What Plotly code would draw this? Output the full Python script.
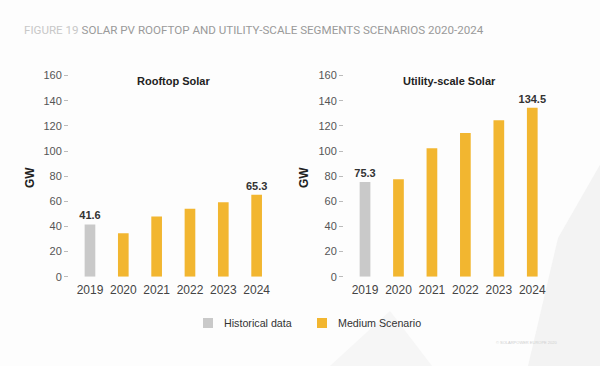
import plotly.graph_objects as go

years = ["2019", "2020", "2021", "2022", "2023", "2024"]
rooftop = [41.6, 34.5, 47.8, 54.1, 59.2, 65.3]
utility = [75.3, 77.5, 102.2, 114.4, 124.5, 134.5]
kind = ["Historical data", "Medium Scenario", "Medium Scenario", "Medium Scenario",
        "Medium Scenario", "Medium Scenario"]
legend_labels = ["Historical data", "Medium Scenario"]
y_ticks = [0, 20, 40, 60, 80, 100, 120, 140, 160]

GREY = "#c9c9c9"
GOLD = "#f2b630"
COLORS = {"Historical data": GREY, "Medium Scenario": GOLD}
FONT = "Liberation Sans, Arial, sans-serif"

fig = go.Figure()

def add_panel(values, xa, ya):
    labels = [("<b>%.1f</b>" % v) if i in (0, len(values) - 1) else "" for i, v in enumerate(values)]
    fig.add_trace(go.Bar(x=years, y=values, marker_color=[COLORS[k] for k in kind],
                         marker_line_width=0, text=labels, textposition="outside",
                         constraintext="none",
                         textfont=dict(family=FONT, size=11, color="#333333"),
                         cliponaxis=False, xaxis=xa, yaxis=ya, showlegend=False,
                         hoverinfo="skip"))

add_panel(rooftop, "x", "y")
add_panel(utility, "x2", "y2")

ydom = [(366 - 276.7) / 366, (366 - 75.6) / 366]
common_x = dict(type="category", showgrid=False, showline=False, zeroline=False, ticks="",
                automargin=False, ticklabelstandoff=4,
                tickfont=dict(family=FONT, size=12, color="#444444"))
common_y = dict(range=[0, 160], tickvals=y_ticks, showgrid=False, showline=False,
                zeroline=False, ticks="outside", ticklen=4, tickcolor="#bbbbbb",
                automargin=False, anchor="free",
                tickfont=dict(family=FONT, size=11, color="#555555"), domain=ydom)

fig.update_layout(
    width=600, height=366,
    margin=dict(l=0, r=0, t=0, b=0, autoexpand=False),
    paper_bgcolor="#fdfdfd", plot_bgcolor="rgba(0,0,0,0)",
    bargap=0.68, showlegend=False, hovermode=False,
    xaxis=dict(domain=[73.3 / 600, 273.3 / 600], anchor="y", **common_x),
    xaxis2=dict(domain=[348.3 / 600, 549 / 600], anchor="y2", **common_x),
    yaxis=dict(position=68 / 600, **common_y),
    yaxis2=dict(position=343 / 600, **common_y),
)

# faint background polygons
fig.add_shape(type="path", xref="paper", yref="paper", layer="below",
              path="M 0.88 0 L 1 0 L 1 0.55 L 0.93 0.35 Z",
              fillcolor="#f3f3f3", line=dict(width=0))
fig.add_shape(type="path", xref="paper", yref="paper", layer="below",
              path="M 0.55 0 L 0.72 0 L 0.65 0.15 Z",
              fillcolor="#f6f6f6", line=dict(width=0))

# legend (manual)
leg_x = [203, 317]
for lab, lx in zip(legend_labels, leg_x):
    fig.add_shape(type="rect", xref="paper", yref="paper",
                  x0=lx / 600, x1=(lx + 10) / 600, y0=1 - 328 / 366, y1=1 - 318 / 366,
                  fillcolor=COLORS[lab], line=dict(width=0))
    fig.add_annotation(x=(lx + 19) / 600, y=1 - 322.7 / 366, xref="paper", yref="paper",
                       xanchor="left", yanchor="middle", showarrow=False, text=lab,
                       font=dict(family=FONT, size=10.7, color="#333333"))

# panel titles
fig.add_annotation(x=173 / 600, y=1 - 80.7 / 366, xref="paper", yref="paper",
                   xanchor="center", yanchor="middle",
                   text="<b>Rooftop Solar</b>", showarrow=False,
                   font=dict(family=FONT, size=11, color="#222222"))
fig.add_annotation(x=449 / 600, y=1 - 80.7 / 366, xref="paper", yref="paper",
                   xanchor="center", yanchor="middle",
                   text="<b>Utility-scale Solar</b>", showarrow=False,
                   font=dict(family=FONT, size=11, color="#222222"))
# GW labels
for xp in [30, 304]:
    fig.add_annotation(x=xp / 600, y=1 - 178 / 366, xref="paper", yref="paper",
                       xanchor="center", yanchor="middle",
                       text="<b>GW</b>", showarrow=False, textangle=-90,
                       font=dict(family=FONT, size=12, color="#222222"))

# main title
fig.add_annotation(x=22 / 600, y=1 - 30 / 366, xref="paper", yref="paper",
                   xanchor="left", yanchor="middle", showarrow=False,
                   text="<span style='color:#c8c8c8'>FIGURE 19</span> "
                        "<span style='color:#9a9a9a'>SOLAR PV ROOFTOP AND UTILITY-SCALE SEGMENTS SCENARIOS 2020-2024</span>",
                   font=dict(family="Roboto, sans-serif", size=11.6))

# footer credit
fig.add_annotation(x=560 / 600, y=1 - 347 / 366, xref="paper", yref="paper",
                   xanchor="right", showarrow=False, text="© SOLARPOWER EUROPE 2020",
                   font=dict(family=FONT, size=4, color="#cfcfcf"))

fig.write_html("out.html", config={"displayModeBar": False, "staticPlot": True},
               post_script="document.body.style.margin='0px';")
